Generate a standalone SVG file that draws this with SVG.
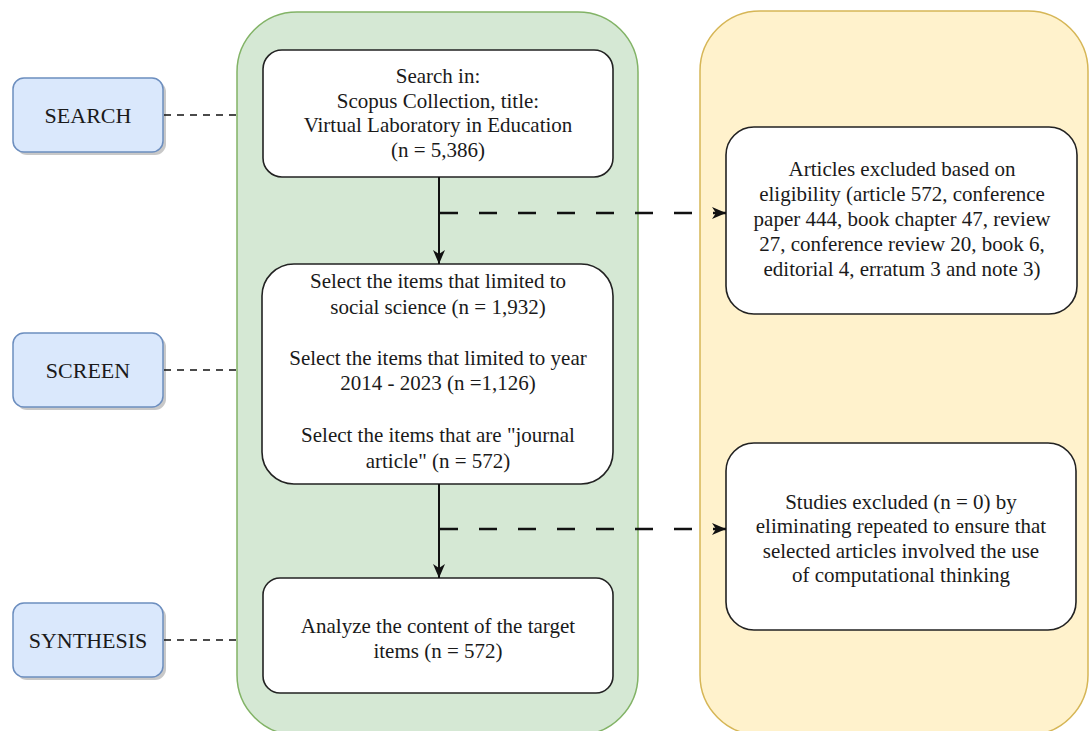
<svg xmlns="http://www.w3.org/2000/svg" width="1089" height="731" viewBox="0 0 1089 731">
  <style>
    .lane-g { fill: #d5e8d4; stroke: #82b366; stroke-width: 1.5; }
    .lane-y { fill: #fff2cc; stroke: #d6b656; stroke-width: 1.5; }
    .box { fill: #ffffff; stroke: #222222; stroke-width: 1.6; }
    .stage { fill: #dae8fc; stroke: #6c8ebf; stroke-width: 1.5; }
    .shadow { fill: #9a9a9a; opacity: 0.55; }
    .t { font-family: "Liberation Serif", "Times New Roman", serif; font-size: 21px; fill: #1a1a1a; text-anchor: middle; }
    .lbl { font-family: "Liberation Serif", "Times New Roman", serif; font-size: 22px; fill: #1a1a1a; text-anchor: middle; }
    .solid { fill: none; stroke: #111111; stroke-width: 2; }
    .dash-big { fill: none; stroke: #111111; stroke-width: 2.5; stroke-dasharray: 18 21; }
    .dash-small { fill: none; stroke: #111111; stroke-width: 1.6; stroke-dasharray: 7 6; }
  </style>
  <defs>
    <marker id="arr" markerUnits="userSpaceOnUse" markerWidth="16" markerHeight="14" refX="14" refY="6" orient="auto">
      <path d="M0,0 L14,6 L0,12 L4,6 Z" fill="#111111"/>
    </marker>
  </defs>

  <rect width="1089" height="731" fill="#ffffff"/>

  <!-- lanes -->
  <g id="lane-process">
    <rect class="lane-g" x="237" y="12" width="401" height="723" rx="60" ry="60"/>
  </g>
  <g id="lane-excluded">
    <rect class="lane-y" x="700" y="11" width="388" height="724" rx="60" ry="60"/>
  </g>

  <!-- stage labels -->
  <g id="stage-search">
    <rect class="shadow" x="16" y="81" width="150" height="74" rx="11" ry="11"/>
    <rect class="stage" x="13" y="78" width="150" height="74" rx="11" ry="11"/>
    <text class="lbl" x="88" y="123">SEARCH</text>
  </g>
  <g id="stage-screen">
    <rect class="shadow" x="16" y="336" width="150" height="74" rx="11" ry="11"/>
    <rect class="stage" x="13" y="333" width="150" height="74" rx="11" ry="11"/>
    <text class="lbl" x="88" y="378">SCREEN</text>
  </g>
  <g id="stage-synthesis">
    <rect class="shadow" x="16" y="606" width="150" height="74" rx="11" ry="11"/>
    <rect class="stage" x="13" y="603" width="150" height="74" rx="11" ry="11"/>
    <text class="lbl" x="88" y="648">SYNTHESIS</text>
  </g>

  <!-- process nodes -->
  <g id="node-search">
    <rect class="box" x="263" y="50" width="350" height="127" rx="19" ry="19"/>
    <text class="t" x="438" y="83">Search in:</text>
    <text class="t" x="438" y="108">Scopus Collection, title:</text>
    <text class="t" x="438" y="132">Virtual Laboratory in Education</text>
    <text class="t" x="438" y="157">(n = 5,386)</text>
  </g>
  <g id="node-screen">
    <rect class="box" x="262" y="264" width="351" height="220" rx="32" ry="32"/>
    <text class="t" x="438" y="288">Select the items that limited to</text>
    <text class="t" x="438" y="314">social science (n = 1,932)</text>
    <text class="t" x="438" y="365">Select the items that limited to year</text>
    <text class="t" x="438" y="390">2014 - 2023 (n =1,126)</text>
    <text class="t" x="438" y="442">Select the items that are "journal</text>
    <text class="t" x="438" y="468">article" (n = 572)</text>
  </g>
  <g id="node-synthesis">
    <rect class="box" x="263" y="578" width="350" height="115" rx="17" ry="17"/>
    <text class="t" x="438" y="633">Analyze the content of the target</text>
    <text class="t" x="438" y="658">items (n = 572)</text>
  </g>

  <!-- exclusion nodes -->
  <g id="node-excluded-eligibility">
    <rect class="box" x="726" y="127" width="351" height="187" rx="28" ry="28"/>
    <text class="t" x="902" y="176">Articles excluded based on</text>
    <text class="t" x="902" y="201">eligibility (article 572, conference</text>
    <text class="t" x="902" y="226">paper 444, book chapter 47, review</text>
    <text class="t" x="902" y="251">27, conference review 20, book 6,</text>
    <text class="t" x="902" y="276">editorial 4, erratum 3 and note 3)</text>
  </g>
  <g id="node-excluded-studies">
    <rect class="box" x="726" y="443" width="350" height="187" rx="28" ry="28"/>
    <text class="t" x="901" y="509">Studies excluded (n = 0) by</text>
    <text class="t" x="901" y="533">eliminating repeated to ensure that</text>
    <text class="t" x="901" y="558">selected articles involved the use</text>
    <text class="t" x="901" y="582">of computational thinking</text>
  </g>

  <!-- connectors -->
  <g id="connectors">
    <line class="dash-small" x1="164" y1="115" x2="236" y2="115"/>
    <line class="dash-small" x1="164" y1="370" x2="236" y2="370"/>
    <line class="dash-small" x1="164" y1="640" x2="236" y2="640"/>

    <line class="solid" x1="439" y1="177" x2="439" y2="264" marker-end="url(#arr)"/>
    <line class="dash-big" x1="440" y1="213" x2="726" y2="213" marker-end="url(#arr)"/>

    <line class="solid" x1="439" y1="484" x2="439" y2="578" marker-end="url(#arr)"/>
    <line class="dash-big" x1="440" y1="529" x2="726" y2="529" marker-end="url(#arr)"/>
  </g>
</svg>
